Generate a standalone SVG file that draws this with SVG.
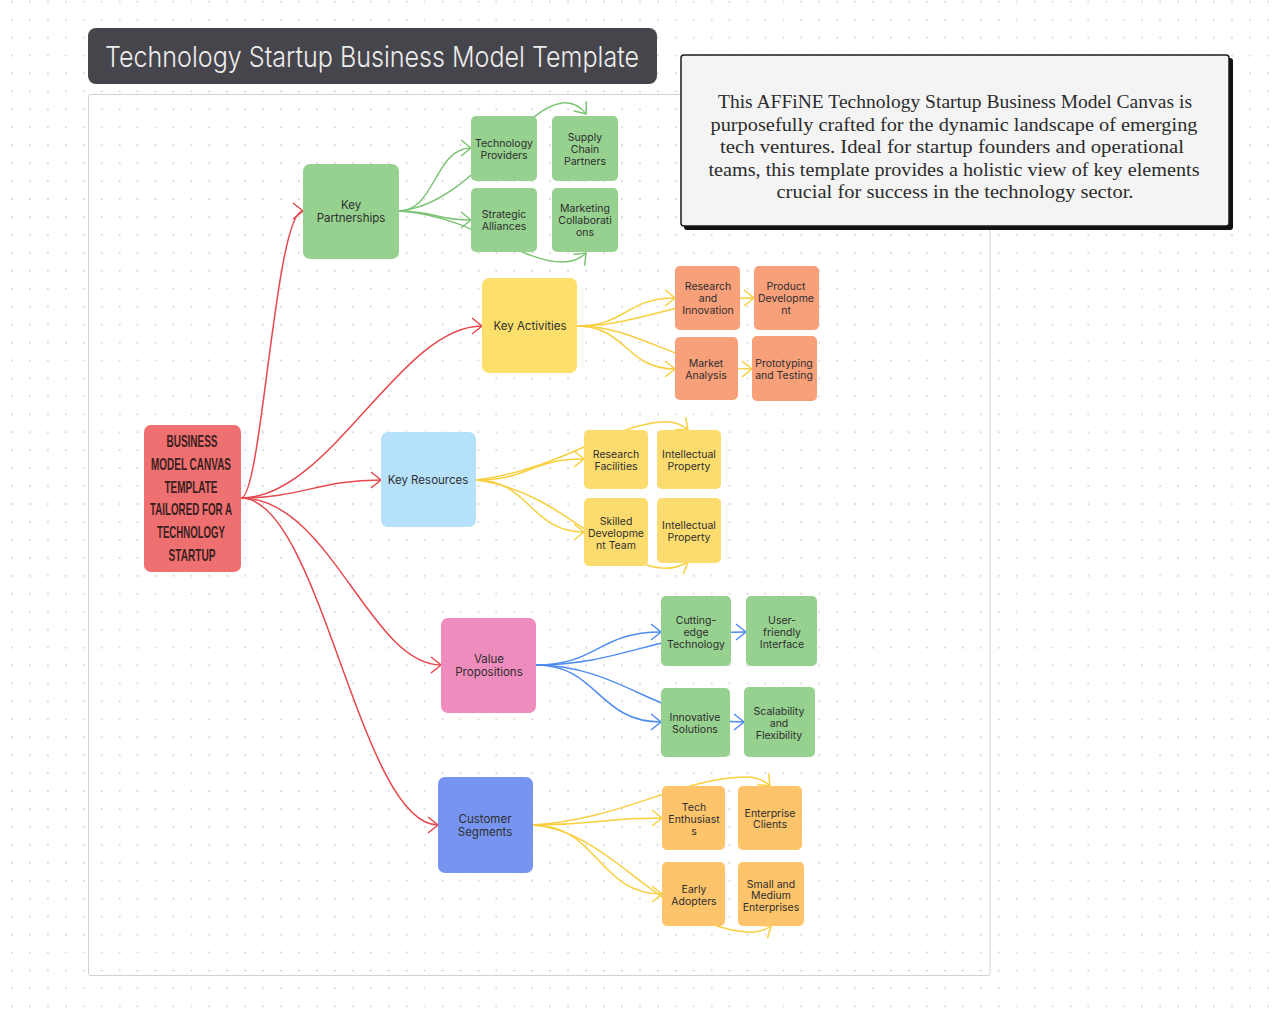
<svg xmlns="http://www.w3.org/2000/svg" width="1280" height="1016" viewBox="0 0 1280 1016">
<defs>
<pattern id="dots" x="3" y="-7.3" width="17.94" height="17.94" patternUnits="userSpaceOnUse">
<circle cx="9" cy="9" r="1.1" fill="#d8d8d8"/>
</pattern>
<marker id="ar" viewBox="-2 -10 14 20" refX="10" refY="0" markerWidth="14" markerHeight="20" markerUnits="userSpaceOnUse" orient="auto"><path d="M0,-8 L10,0 L0,8" fill="none" stroke="#e5484d" stroke-width="1.5"/></marker>
<marker id="ag" viewBox="-2 -10 14 20" refX="10" refY="0" markerWidth="14" markerHeight="20" markerUnits="userSpaceOnUse" orient="auto"><path d="M0,-8 L10,0 L0,8" fill="none" stroke="#7cc474" stroke-width="1.5"/></marker>
<marker id="ay" viewBox="-2 -10 14 20" refX="10" refY="0" markerWidth="14" markerHeight="20" markerUnits="userSpaceOnUse" orient="auto"><path d="M0,-8 L10,0 L0,8" fill="none" stroke="#f8cf3f" stroke-width="1.5"/></marker>
<marker id="ab" viewBox="-2 -10 14 20" refX="10" refY="0" markerWidth="14" markerHeight="20" markerUnits="userSpaceOnUse" orient="auto"><path d="M0,-8 L10,0 L0,8" fill="none" stroke="#4f8cf0" stroke-width="1.5"/></marker>
</defs>
<style>
.n text{font-family:Inter,"Liberation Sans",sans-serif;font-size:10.5px;fill:#2e2e2e;text-anchor:middle}
.big text{font-size:11.5px}
.c path{fill:none;stroke-width:1.5}
.r{stroke:#e5484d;marker-end:url(#ar)}
.g{stroke:#7cc474;marker-end:url(#ag)}
.y{stroke:#f8cf3f;marker-end:url(#ay)}
.b{stroke:#4f8cf0;marker-end:url(#ab)}
.desc{font-family:"Liberation Serif",serif;font-size:18.5px;fill:#2b2b2b;text-anchor:middle}
.root text{font-family:"Liberation Sans",sans-serif;font-weight:bold;font-size:17px;fill:#3b1e1e;text-anchor:middle}
</style>
<rect width="1280" height="1016" fill="#ffffff"/>
<rect width="1280" height="1016" fill="url(#dots)"/>
<rect x="88.5" y="94.5" width="901.5" height="881" fill="none" stroke="#d2d2d2" stroke-width="1" rx="2"/>

<g id="title">
<rect x="88" y="28" width="569" height="56" rx="8" fill="#46454c"/>
<text x="372" y="67" font-family="Inter,Liberation Sans,sans-serif" font-weight="300" font-size="29" fill="#ededed" text-anchor="middle" textLength="534" lengthAdjust="spacingAndGlyphs">Technology Startup Business Model Template</text>
</g>

<g id="description">
<rect x="684" y="58" width="549" height="172" rx="3" fill="#111"/>
<rect x="681" y="55" width="548" height="171" rx="3" fill="#f4f4f4" stroke="#1a1a1a" stroke-width="1.5"/>
<text class="desc" x="955" y="108" textLength="474" lengthAdjust="spacingAndGlyphs">This AFFiNE Technology Startup Business Model Canvas is</text>
<text class="desc" x="954" y="131" textLength="487" lengthAdjust="spacingAndGlyphs">purposefully crafted for the dynamic landscape of emerging</text>
<text class="desc" x="952" y="153" textLength="464" lengthAdjust="spacingAndGlyphs">tech ventures. Ideal for startup founders and operational</text>
<text class="desc" x="954" y="176" textLength="491" lengthAdjust="spacingAndGlyphs">teams, this template provides a holistic view of key elements</text>
<text class="desc" x="955" y="198" textLength="357" lengthAdjust="spacingAndGlyphs">crucial for success in the technology sector.</text>
</g>

<g id="connectors" class="c">
<path class="r" d="M241,498 C262,498 275,211 303,211"/>
<path class="r" d="M241,498 C330,498 400,326 482,326"/>
<path class="r" d="M241,498 C300,498 320,480 381,480"/>
<path class="r" d="M241,498 C330,498 370,665 441,665"/>
<path class="r" d="M241,498 C320,498 360,825 438,825"/>

<path class="g" d="M399,211 C435,211 435,148 471,148"/>
<path class="g" d="M399,211 C435,211 435,220 471,220"/>
<path class="g" d="M399,211 C470,205 520,108 562,103 C573,102 580,106 586,114"/>
<path class="g" d="M399,211 C470,215 520,262 562,262 C573,262 580,259 586,253"/>

<path class="y" d="M577,326 C626,326 626,298 675,298"/>
<path class="y" d="M577,326 C626,326 626,369 675,369"/>
<path class="y" d="M577,326 C640,326 680,298 754,298"/>
<path class="y" d="M577,326 C640,326 680,369 752,369"/>

<path class="y" d="M476,480 C560,470 610,425 662,422 C673,421 681,424 688,430"/>
<path class="y" d="M476,480 C530,480 530,459 584,459"/>
<path class="y" d="M476,480 C530,480 530,532 584,532"/>
<path class="y" d="M476,480 C560,490 610,565 662,568 C673,569 681,566 688,562"/>

<path class="b" d="M536,665 C598,665 598,632 661,632"/>
<path class="b" d="M536,665 C598,665 598,722 661,722"/>
<path class="b" d="M536,665 C620,665 660,632 746,632"/>
<path class="b" d="M536,665 C620,665 660,722 744,722"/>

<path class="y" d="M533,825 C598,825 598,818 662,818"/>
<path class="y" d="M533,825 C598,825 598,894 662,894"/>
<path class="y" d="M533,825 C620,820 680,778 746,777 C757,777 764,780 770,786"/>
<path class="y" d="M533,825 C610,830 660,925 746,932 C757,933 764,931 771,926"/>
</g>

<g id="root" class="root">
<rect x="144" y="425" width="97" height="147" rx="7" fill="#ef7070"/>
<text x="192" y="447" textLength="51" lengthAdjust="spacingAndGlyphs">BUSINESS</text>
<text x="191" y="470" textLength="80" lengthAdjust="spacingAndGlyphs">MODEL CANVAS</text>
<text x="191" y="493" textLength="53" lengthAdjust="spacingAndGlyphs">TEMPLATE</text>
<text x="191" y="515" textLength="82" lengthAdjust="spacingAndGlyphs">TAILORED FOR A</text>
<text x="191" y="538" textLength="68" lengthAdjust="spacingAndGlyphs">TECHNOLOGY</text>
<text x="192" y="561" textLength="47" lengthAdjust="spacingAndGlyphs">STARTUP</text>
</g>

<g id="key-partnerships" class="n big">
<rect x="303" y="164" width="96" height="95" rx="7" fill="#96d18f"/>
<text x="351" y="209">Key</text>
<text x="351" y="222">Partnerships</text>
</g>
<g id="technology-providers" class="n">
<rect x="471" y="116" width="66" height="65" rx="5" fill="#96d18f"/>
<text x="504" y="147">Technology</text>
<text x="504" y="159">Providers</text>
</g>
<g id="supply-chain-partners" class="n">
<rect x="552" y="116" width="66" height="65" rx="5" fill="#96d18f"/>
<text x="585" y="141">Supply</text>
<text x="585" y="153">Chain</text>
<text x="585" y="165">Partners</text>
</g>
<g id="strategic-alliances" class="n">
<rect x="471" y="188" width="66" height="64" rx="5" fill="#96d18f"/>
<text x="504" y="218">Strategic</text>
<text x="504" y="230">Alliances</text>
</g>
<g id="marketing-collaborations" class="n">
<rect x="552" y="188" width="66" height="64" rx="5" fill="#96d18f"/>
<text x="585" y="212">Marketing</text>
<text x="585" y="224">Collaborati</text>
<text x="585" y="236">ons</text>
</g>

<g id="key-activities" class="n big">
<rect x="482" y="278" width="95" height="95" rx="7" fill="#fde06c"/>
<text x="530" y="330">Key Activities</text>
</g>
<g id="research-innovation" class="n">
<rect x="675" y="266" width="65" height="64" rx="5" fill="#f8a07a"/>
<text x="708" y="290">Research</text>
<text x="708" y="302">and</text>
<text x="708" y="314">Innovation</text>
</g>
<g id="product-development" class="n">
<rect x="754" y="266" width="65" height="64" rx="5" fill="#f8a07a"/>
<text x="786" y="290">Product</text>
<text x="786" y="302">Developme</text>
<text x="786" y="314">nt</text>
</g>
<g id="market-analysis" class="n">
<rect x="675" y="337" width="63" height="63" rx="5" fill="#f8a07a"/>
<text x="706" y="367">Market</text>
<text x="706" y="379">Analysis</text>
</g>
<g id="prototyping-testing" class="n">
<rect x="752" y="336" width="65" height="65" rx="5" fill="#f8a07a"/>
<text x="784" y="367">Prototyping</text>
<text x="784" y="379">and Testing</text>
</g>

<g id="key-resources" class="n big">
<rect x="381" y="432" width="95" height="95" rx="7" fill="#b6e1fb"/>
<text x="428" y="484">Key Resources</text>
</g>
<g id="research-facilities" class="n">
<rect x="584" y="430" width="64" height="59" rx="5" fill="#fddc6f"/>
<text x="616" y="458">Research</text>
<text x="616" y="470">Facilities</text>
</g>
<g id="intellectual-property-1" class="n">
<rect x="657" y="430" width="64" height="59" rx="5" fill="#fddc6f"/>
<text x="689" y="458">Intellectual</text>
<text x="689" y="470">Property</text>
</g>
<g id="skilled-development-team" class="n">
<rect x="584" y="498" width="64" height="68" rx="5" fill="#fddc6f"/>
<text x="616" y="525">Skilled</text>
<text x="616" y="537">Developme</text>
<text x="616" y="549">nt Team</text>
</g>
<g id="intellectual-property-2" class="n">
<rect x="657" y="498" width="64" height="65" rx="5" fill="#fddc6f"/>
<text x="689" y="529">Intellectual</text>
<text x="689" y="541">Property</text>
</g>

<g id="value-propositions" class="n big">
<rect x="441" y="618" width="95" height="95" rx="7" fill="#ee8cbd"/>
<text x="489" y="663">Value</text>
<text x="489" y="676">Propositions</text>
</g>
<g id="cutting-edge-technology" class="n">
<rect x="661" y="596" width="70" height="70" rx="5" fill="#96d18f"/>
<text x="696" y="624">Cutting-</text>
<text x="696" y="636">edge</text>
<text x="696" y="648">Technology</text>
</g>
<g id="user-friendly-interface" class="n">
<rect x="746" y="596" width="71" height="70" rx="5" fill="#96d18f"/>
<text x="782" y="624">User-</text>
<text x="782" y="636">friendly</text>
<text x="782" y="648">Interface</text>
</g>
<g id="innovative-solutions" class="n">
<rect x="661" y="688" width="69" height="69" rx="5" fill="#96d18f"/>
<text x="695" y="721">Innovative</text>
<text x="695" y="733">Solutions</text>
</g>
<g id="scalability-flexibility" class="n">
<rect x="744" y="687" width="71" height="70" rx="5" fill="#96d18f"/>
<text x="779" y="715">Scalability</text>
<text x="779" y="727">and</text>
<text x="779" y="739">Flexibility</text>
</g>

<g id="customer-segments" class="n big">
<rect x="438" y="777" width="95" height="96" rx="7" fill="#7795f0"/>
<text x="485" y="823">Customer</text>
<text x="485" y="836">Segments</text>
</g>
<g id="tech-enthusiasts" class="n">
<rect x="662" y="786" width="63" height="64" rx="5" fill="#fdc46b"/>
<text x="694" y="811">Tech</text>
<text x="694" y="823">Enthusiast</text>
<text x="694" y="835">s</text>
</g>
<g id="enterprise-clients" class="n">
<rect x="738" y="786" width="64" height="64" rx="5" fill="#fdc46b"/>
<text x="770" y="817">Enterprise</text>
<text x="770" y="828">Clients</text>
</g>
<g id="early-adopters" class="n">
<rect x="662" y="862" width="63" height="64" rx="5" fill="#fdc46b"/>
<text x="694" y="893">Early</text>
<text x="694" y="905">Adopters</text>
</g>
<g id="small-medium-enterprises" class="n">
<rect x="738" y="862" width="66" height="64" rx="5" fill="#fdc46b"/>
<text x="771" y="888">Small and</text>
<text x="771" y="899">Medium</text>
<text x="771" y="911">Enterprises</text>
</g>
</svg>
